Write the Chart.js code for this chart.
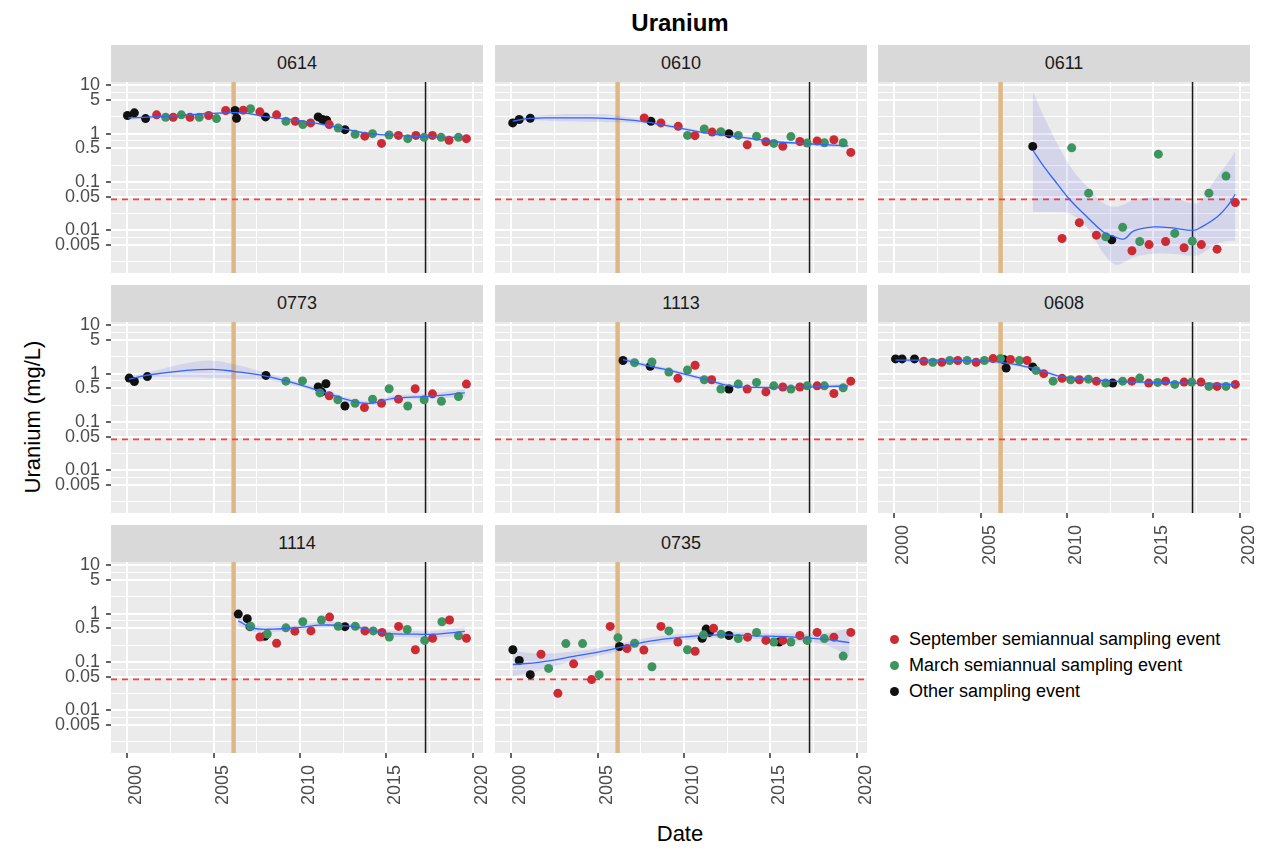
<!DOCTYPE html>
<html>
<head>
<meta charset="utf-8">
<title>Uranium</title>
<script src="https://cdn.jsdelivr.net/npm/chart.js@4.4.0/dist/chart.umd.min.js"></script>
<style>
  body {
    margin: 0;
    width: 1261px;
    height: 849px;
    position: relative;
    overflow: hidden;
    background: #fff;
    font-family: "Liberation Sans", Arial, sans-serif;
  }
  canvas { position: absolute; }
  .strip {
    position: absolute;
    height: 37px;
    line-height: 37px;
    background: #d9d9d9;
    color: #1a1a1a;
    font-size: 18px;
    text-align: center;
  }
  .title {
    position: absolute; left: 480px; top: 11px; width: 400px;
    text-align: center; font-size: 24px; line-height: 24px; font-weight: bold; color: #000;
  }
  .xtitle {
    position: absolute; left: 580px; top: 823px; width: 200px;
    text-align: center; font-size: 22px; line-height: 22px; color: #000;
  }
  .ytitle {
    position: absolute; left: -117px; top: 406px; width: 300px;
    text-align: center; font-size: 22px; line-height: 22px; color: #000;
    transform: rotate(-90deg);
  }
  .key { position: absolute; left: 890px; font-size: 18px; line-height: 18px; color: #000; white-space: nowrap; }
  .key span {
    display: inline-block; width: 9px; height: 9px; border-radius: 50%;
    margin-right: 10px; vertical-align: 1px;
  }
</style>
</head>
<body>
<div class="title">Uranium</div>
<div class="ytitle">Uranium (mg/L)</div>
<div class="xtitle">Date</div>

<script>
// axis ranges and reference lines
const X_MIN = 1999.045, X_MAX = 2020.6;
const Y_MIN = 0.00132, Y_MAX = 11.7;
const yearBreaks = [2000, 2005, 2010, 2015, 2020];
const yBreaks = [0.005, 0.01, 0.05, 0.1, 0.5, 1, 5, 10];
const STANDARD = 0.044;
const TAN_YEAR = 2006.15;
const BLACK_YEAR = 2017.27;

// samples: decimal year, uranium (mg/L), event code
// S = September semiannual, M = March semiannual, O = other
const dates0614 = [2000.0, 2000.4, 2001.05, 2001.69, 2002.21, 2002.65, 2003.12, 2003.62, 2004.16, 2004.70, 2005.16, 2005.69, 2006.23, 2006.32, 2006.71, 2007.13, 2007.67, 2008.0, 2008.64, 2009.18, 2009.72, 2010.16, 2010.61, 2011.05, 2011.30, 2011.54, 2011.69, 2012.21, 2012.60, 2013.19, 2013.75, 2014.20, 2014.72, 2015.16, 2015.70, 2016.24, 2016.71, 2017.19, 2017.67, 2018.17, 2018.63, 2019.18, 2019.64];
const uranium0614 = [2.37, 2.70, 2.05, 2.45, 2.19, 2.19, 2.45, 2.19, 2.19, 2.37, 2.05, 3.01, 3.01, 2.08, 3.06, 3.27, 2.83, 2.22, 2.45, 1.81, 1.81, 1.54, 1.67, 2.22, 1.96, 1.90, 1.54, 1.31, 1.21, 0.97, 0.89, 1.0, 0.63, 0.94, 0.92, 0.79, 0.92, 0.84, 0.92, 0.84, 0.73, 0.84, 0.79];
const events0614 = 'OOOSMSMSMSMSOOSMSOSMSMSOOOSMOMSMSMSMSMSMSMS';

const dates0610 = [2000.07, 2000.45, 2001.09, 2007.69, 2008.08, 2008.66, 2009.66, 2010.2, 2010.63, 2011.17, 2011.63, 2012.13, 2012.6, 2013.14, 2013.66, 2014.2, 2014.74, 2015.2, 2015.72, 2016.19, 2016.71, 2017.13, 2017.71, 2018.13, 2018.68, 2019.22, 2019.66];
const uranium0610 = [1.67, 1.96, 2.08, 2.12, 1.81, 1.67, 1.42, 0.92, 0.91, 1.25, 1.08, 1.10, 1.0, 0.92, 0.59, 0.88, 0.68, 0.63, 0.55, 0.87, 0.69, 0.64, 0.71, 0.65, 0.75, 0.65, 0.41];
const events0610 = 'OOOSOSSMSMSMOMSMSMSMSMSMSMS';

const dates0611 = [2008.01, 2009.71, 2010.27, 2010.71, 2011.25, 2011.70, 2012.24, 2012.59, 2013.22, 2013.76, 2014.21, 2014.75, 2015.29, 2015.71, 2016.24, 2016.78, 2017.26, 2017.78, 2018.22, 2018.69, 2019.21, 2019.75];
const uranium0611 = [0.545, 0.0068, 0.51, 0.0145, 0.059, 0.0080, 0.0074, 0.0064, 0.0116, 0.0038, 0.0059, 0.0051, 0.377, 0.0059, 0.0087, 0.0044, 0.0060, 0.0051, 0.059, 0.0041, 0.133, 0.0377];
const events0611 = 'OSMSMSMOMSMSMSMSMSMSMS';

const dates0773 = [2000.1, 2000.4, 2001.15, 2008.02, 2009.18, 2010.14, 2011.05, 2011.15, 2011.25, 2011.5, 2011.69, 2012.19, 2012.6, 2013.19, 2013.73, 2014.2, 2014.72, 2015.16, 2015.7, 2016.24, 2016.67, 2017.19, 2017.67, 2018.19, 2019.18, 2019.64];
const uranium0773 = [0.81, 0.69, 0.87, 0.92, 0.70, 0.71, 0.53, 0.40, 0.42, 0.62, 0.35, 0.29, 0.215, 0.245, 0.199, 0.297, 0.245, 0.487, 0.297, 0.215, 0.487, 0.29, 0.383, 0.27, 0.337, 0.61];
const events0773 = 'OOOOMMOMOOSMOMSMSMSMSMSMMS';

const dates1113 = [2006.46, 2007.13, 2008.04, 2008.14, 2009.12, 2009.64, 2010.2, 2010.64, 2011.17, 2011.6, 2012.13, 2012.6, 2013.14, 2013.66, 2014.2, 2014.74, 2015.2, 2015.72, 2016.19, 2016.71, 2017.13, 2017.71, 2018.13, 2018.68, 2019.22, 2019.66];
const uranium1113 = [1.87, 1.69, 1.42, 1.75, 1.08, 0.80, 1.19, 1.49, 0.75, 0.75, 0.48, 0.48, 0.61, 0.48, 0.66, 0.42, 0.56, 0.53, 0.48, 0.53, 0.56, 0.56, 0.56, 0.39, 0.51, 0.70];
const events1113 = 'OMOMMSMSMSMOMSMSMSMSMSMSMS';

const dates0608 = [2000.06, 2000.44, 2001.16, 2001.70, 2002.22, 2002.74, 2003.2, 2003.67, 2004.21, 2004.73, 2005.21, 2005.71, 2006.14, 2006.33, 2006.47, 2006.72, 2007.24, 2007.68, 2008.01, 2008.2, 2008.65, 2009.19, 2009.71, 2010.21, 2010.71, 2011.24, 2011.70, 2012.24, 2012.64, 2013.22, 2013.75, 2014.21, 2014.73, 2015.25, 2015.71, 2016.24, 2016.78, 2017.22, 2017.76, 2018.22, 2018.69, 2019.21, 2019.75];
const uranium0608 = [2.02, 2.02, 2.02, 1.81, 1.72, 1.72, 1.87, 1.87, 1.87, 1.72, 1.87, 2.05, 2.05, 1.96, 1.31, 1.96, 1.87, 1.87, 1.38, 1.17, 1.0, 0.70, 0.80, 0.75, 0.75, 0.77, 0.70, 0.64, 0.64, 0.70, 0.70, 0.81, 0.64, 0.66, 0.70, 0.60, 0.67, 0.67, 0.67, 0.545, 0.545, 0.545, 0.60];
const events0608 = 'OOOSMSMSMSMSMOOSMSOMSMSMSMSMOMSMSMSMSMSMSMS';

const dates1114 = [2006.42, 2006.94, 2007.1, 2007.13, 2007.67, 2007.96, 2008.1, 2008.64, 2009.18, 2009.70, 2010.16, 2010.63, 2011.24, 2011.71, 2012.21, 2012.6, 2013.2, 2013.76, 2014.24, 2014.75, 2015.17, 2015.71, 2016.21, 2016.68, 2017.22, 2017.68, 2018.22, 2018.66, 2019.18, 2019.64];
const uranium1114 = [0.98, 0.79, 0.54, 0.55, 0.33, 0.34, 0.38, 0.245, 0.51, 0.435, 0.68, 0.44, 0.74, 0.85, 0.55, 0.54, 0.55, 0.44, 0.44, 0.41, 0.33, 0.545, 0.47, 0.18, 0.28, 0.31, 0.68, 0.74, 0.35, 0.31];
const events1114 = 'OOOMSOMSMSMSMSMOMSMSMSMSMSMSMS';

const dates0735 = [2000.08, 2000.45, 2001.09, 2001.71, 2002.15, 2002.69, 2003.15, 2003.6, 2004.12, 2004.64, 2005.08, 2005.72, 2006.17, 2006.26, 2006.69, 2007.13, 2007.67, 2008.14, 2008.66, 2009.12, 2009.64, 2010.2, 2010.64, 2011.05, 2011.13, 2011.28, 2011.47, 2011.71, 2012.15, 2012.6, 2013.14, 2013.68, 2014.2, 2014.74, 2015.2, 2015.51, 2015.72, 2016.19, 2016.71, 2017.13, 2017.71, 2018.13, 2018.68, 2019.22, 2019.66];
const uranium0735 = [0.18, 0.108, 0.055, 0.145, 0.074, 0.0226, 0.241, 0.092, 0.241, 0.0435, 0.055, 0.545, 0.32, 0.21, 0.19, 0.245, 0.178, 0.08, 0.545, 0.44, 0.26, 0.18, 0.167, 0.31, 0.365, 0.48, 0.41, 0.50, 0.377, 0.354, 0.306, 0.327, 0.41, 0.28, 0.26, 0.26, 0.28, 0.26, 0.354, 0.28, 0.41, 0.306, 0.327, 0.133, 0.41];
const events0735 = 'OOOSMSMSMSMSMOSMSMSMSMSOMOOSMOMSMSMOSMSMSMSMS';

// loess trend with its confidence band
const fitDates0614 = [2000.05, 2002.5, 2004.8, 2006.7, 2008.1, 2010.0, 2011.9, 2013.85, 2015.8, 2017.7, 2019.64];
const fit0614 = [2.12, 2.30, 2.61, 2.69, 2.22, 1.86, 1.42, 1.03, 0.91, 0.85, 0.84];
const fitLow0614 = [1.93, 2.19, 2.47, 2.55, 2.12, 1.77, 1.36, 0.98, 0.87, 0.81, 0.77];
const fitHigh0614 = [2.33, 2.42, 2.76, 2.84, 2.33, 1.95, 1.49, 1.08, 0.95, 0.89, 0.91];

const fitDates0610 = [2000.07, 2001.1, 2002.6, 2004.2, 2005.7, 2007.46, 2009.4, 2011.3, 2013.25, 2015.18, 2017.11, 2019.52];
const fit0610 = [1.81, 2.08, 2.12, 2.12, 2.05, 1.81, 1.38, 1.03, 0.85, 0.69, 0.62, 0.56];
const fitLow0610 = [1.58, 1.88, 1.80, 1.76, 1.72, 1.64, 1.28, 0.96, 0.79, 0.64, 0.58, 0.49];
const fitHigh0610 = [2.07, 2.30, 2.50, 2.55, 2.45, 2.00, 1.49, 1.10, 0.91, 0.74, 0.66, 0.64];

const fitDates0611 = [2008.01, 2008.65, 2009.42, 2010.19, 2011.16, 2012.12, 2012.8, 2013.32, 2013.86, 2015.02, 2015.98, 2017.33, 2017.72, 2018.69, 2019.27, 2019.75];
const fit0611 = [0.46, 0.21, 0.093, 0.042, 0.019, 0.0092, 0.0073, 0.0067, 0.0098, 0.0118, 0.0114, 0.010, 0.0114, 0.019, 0.031, 0.056];
const fitLow0611 = [0.024, 0.024, 0.024, 0.022, 0.0117, 0.0033, 0.00196, 0.00224, 0.0028, 0.0033, 0.0033, 0.0030, 0.0032, 0.0053, 0.0060, 0.0062];
const fitHigh0611 = [7.6, 2.3, 0.64, 0.21, 0.080, 0.036, 0.031, 0.035, 0.042, 0.049, 0.049, 0.036, 0.040, 0.129, 0.24, 0.43];

const fitDates0773 = [2000.1, 2001.3, 2003.43, 2004.97, 2006.13, 2008.06, 2010.0, 2011.54, 2012.89, 2014.05, 2015.4, 2017.33, 2019.55];
const fit0773 = [0.77, 0.95, 1.17, 1.23, 1.12, 0.88, 0.59, 0.40, 0.28, 0.245, 0.31, 0.337, 0.40];
const fitLow0773 = [0.67, 0.83, 0.83, 0.81, 0.79, 0.75, 0.53, 0.36, 0.25, 0.22, 0.28, 0.30, 0.33];
const fitHigh0773 = [0.88, 1.09, 1.65, 1.86, 1.58, 1.03, 0.66, 0.45, 0.31, 0.275, 0.35, 0.38, 0.48];

const fitDates1113 = [2006.46, 2008.04, 2009.39, 2011.32, 2012.67, 2014.22, 2016.15, 2018.08, 2019.52];
const fit1113 = [1.96, 1.42, 1.12, 0.75, 0.56, 0.52, 0.52, 0.54, 0.56];
const fitLow1113 = [1.71, 1.29, 1.02, 0.68, 0.51, 0.485, 0.485, 0.50, 0.50];
const fitHigh1113 = [2.25, 1.56, 1.23, 0.82, 0.61, 0.56, 0.56, 0.59, 0.63];

const fitDates0608 = [2000.06, 2002.47, 2005.37, 2006.72, 2007.68, 2008.65, 2009.61, 2011.16, 2013.09, 2015.02, 2016.95, 2019.75];
const fit0608 = [1.90, 1.90, 1.81, 1.61, 1.38, 1.12, 0.88, 0.77, 0.69, 0.66, 0.64, 0.59];
const fitLow0608 = [1.74, 1.77, 1.69, 1.50, 1.29, 1.04, 0.82, 0.72, 0.645, 0.62, 0.60, 0.54];
const fitHigh0608 = [2.08, 2.03, 1.94, 1.73, 1.48, 1.20, 0.94, 0.82, 0.74, 0.71, 0.69, 0.65];

const fitDates1114 = [2006.42, 2007.29, 2008.45, 2010.0, 2011.15, 2012.69, 2013.85, 2015.0, 2016.75, 2017.71, 2019.55];
const fit1114 = [0.71, 0.50, 0.48, 0.52, 0.58, 0.56, 0.48, 0.39, 0.377, 0.377, 0.43];
const fitLow1114 = [0.56, 0.425, 0.42, 0.46, 0.505, 0.50, 0.43, 0.34, 0.32, 0.32, 0.34];
const fitHigh1114 = [0.89, 0.59, 0.55, 0.58, 0.67, 0.63, 0.54, 0.45, 0.44, 0.44, 0.54];

const fitDates0735 = [2000.08, 2001.67, 2003.6, 2005.53, 2007.07, 2008.81, 2010.74, 2012.29, 2014.22, 2016.15, 2018.08, 2019.58];
const fit0735 = [0.089, 0.10, 0.131, 0.175, 0.233, 0.297, 0.348, 0.365, 0.348, 0.332, 0.297, 0.253];
const fitLow0735 = [0.051, 0.068, 0.105, 0.146, 0.195, 0.25, 0.30, 0.315, 0.30, 0.28, 0.23, 0.133];
const fitHigh0735 = [0.17, 0.15, 0.165, 0.21, 0.28, 0.35, 0.40, 0.42, 0.40, 0.39, 0.39, 0.50];

const eventLabels = {
  S: "September semiannual sampling event",
  M: "March semiannual sampling event",
  O: "Other sampling event",
};
const eventColors = { S: "#cd2a33", M: "#3d9460", O: "#111111" };

const wells = [
  { name: "0614", col: 0, row: 0, xAxis: false, dates: dates0614, uranium: uranium0614, events: events0614, fitDates: fitDates0614, fit: fit0614, low: fitLow0614, high: fitHigh0614 },
  { name: "0610", col: 1, row: 0, xAxis: false, dates: dates0610, uranium: uranium0610, events: events0610, fitDates: fitDates0610, fit: fit0610, low: fitLow0610, high: fitHigh0610 },
  { name: "0611", col: 2, row: 0, xAxis: false, dates: dates0611, uranium: uranium0611, events: events0611, fitDates: fitDates0611, fit: fit0611, low: fitLow0611, high: fitHigh0611 },
  { name: "0773", col: 0, row: 1, xAxis: false, dates: dates0773, uranium: uranium0773, events: events0773, fitDates: fitDates0773, fit: fit0773, low: fitLow0773, high: fitHigh0773 },
  { name: "1113", col: 1, row: 1, xAxis: false, dates: dates1113, uranium: uranium1113, events: events1113, fitDates: fitDates1113, fit: fit1113, low: fitLow1113, high: fitHigh1113 },
  { name: "0608", col: 2, row: 1, xAxis: true, dates: dates0608, uranium: uranium0608, events: events0608, fitDates: fitDates0608, fit: fit0608, low: fitLow0608, high: fitHigh0608 },
  { name: "1114", col: 0, row: 2, xAxis: true, dates: dates1114, uranium: uranium1114, events: events1114, fitDates: fitDates1114, fit: fit1114, low: fitLow1114, high: fitHigh1114 },
  { name: "0735", col: 1, row: 2, xAxis: true, dates: dates0735, uranium: uranium0735, events: events0735, fitDates: fitDates0735, fit: fit0735, low: fitLow0735, high: fitHigh0735 },
];

// facet geometry
const COL_LEFT = [111, 495, 878];
const ROW_TOP = [82, 322, 562];
const PLOT_W = 372, PLOT_H = 191, STRIP_H = 37;
const Y_AXIS_W = 71, X_AXIS_H = 60;
const PAD_TOP = 12, PAD_RIGHT = 16; // room for labels overhanging the panel

// gridlines: breaks plus the midpoints between them
const xGrid = yearBreaks.flatMap((v, i) => (i ? [(yearBreaks[i - 1] + v) / 2, v] : [v]));
const yLevels = [0.001].concat(yBreaks);
const yGrid = yLevels.flatMap((v, i) => (i ? [Math.sqrt(yLevels[i - 1] * v), v] : []));

Chart.defaults.font.family = '"Liberation Sans", Arial, sans-serif';

const panelPlugin = {
  id: "panel",
  beforeDraw(chart) {
    const { ctx, chartArea: a } = chart;
    ctx.save();
    ctx.fillStyle = "#ebebeb";
    ctx.fillRect(a.left, a.top, a.width, a.height);
    ctx.restore();
  },
  beforeDatasetsDraw(chart) {
    const { ctx, chartArea: a, scales } = chart;
    ctx.save();
    ctx.beginPath();
    ctx.rect(a.left, a.top, a.width, a.height);
    ctx.clip();

    const tx = scales.x.getPixelForValue(TAN_YEAR);
    ctx.strokeStyle = "#deb887";
    ctx.lineWidth = 4.5;
    ctx.beginPath();
    ctx.moveTo(tx, a.top);
    ctx.lineTo(tx, a.bottom);
    ctx.stroke();

    const bx = scales.x.getPixelForValue(BLACK_YEAR);
    ctx.strokeStyle = "#1a1a1a";
    ctx.lineWidth = 1.5;
    ctx.beginPath();
    ctx.moveTo(bx, a.top);
    ctx.lineTo(bx, a.bottom);
    ctx.stroke();

    const sy = scales.y.getPixelForValue(STANDARD);
    ctx.strokeStyle = "#ff3b3b";
    ctx.lineWidth = 1.8;
    ctx.setLineDash([6, 5]);
    ctx.beginPath();
    ctx.moveTo(a.left, sy);
    ctx.lineTo(a.right, sy);
    ctx.stroke();
    ctx.restore();
  },
};

function toPoints(xs, ys) {
  return xs.map((x, i) => ({ x: x, y: ys[i] }));
}

function eventPoints(well, code) {
  return well.dates
    .map((d, i) => ({ x: d, y: well.uranium[i], e: well.events[i] }))
    .filter((p) => p.e === code);
}

function drawWell(well) {
  const left = COL_LEFT[well.col];
  const top = ROW_TOP[well.row];
  const yw = well.col === 0 ? Y_AXIS_W : 0;
  const xh = well.xAxis ? X_AXIS_H : 0;

  const strip = document.createElement("div");
  strip.className = "strip";
  strip.style.left = left + "px";
  strip.style.top = top - STRIP_H + "px";
  strip.style.width = PLOT_W + "px";
  strip.textContent = well.name;
  document.body.appendChild(strip);

  const canvas = document.createElement("canvas");
  canvas.width = yw + PLOT_W + PAD_RIGHT;
  canvas.height = PAD_TOP + PLOT_H + xh;
  canvas.style.left = left - yw + "px";
  canvas.style.top = top - PAD_TOP + "px";
  document.body.appendChild(canvas);

  const datasets = [
    {
      label: "fit",
      data: toPoints(well.fitDates, well.fit),
      showLine: true,
      borderColor: "#3366ff",
      borderWidth: 1.3,
      pointRadius: 0,
      tension: 0.4,
      fill: false,
      order: 0,
    },
  ];
  ["S", "M", "O"].forEach((code, k) => {
    datasets.push({
      label: eventLabels[code],
      data: eventPoints(well, code),
      backgroundColor: eventColors[code],
      borderWidth: 0,
      pointRadius: 4.5,
      order: 1 + k,
    });
  });
  datasets.push(
    {
      label: "upper",
      data: toPoints(well.fitDates, well.high),
      showLine: true,
      borderWidth: 0,
      borderColor: "rgba(0,0,0,0)",
      pointRadius: 0,
      tension: 0.4,
      fill: "+1",
      backgroundColor: "rgba(70, 70, 225, 0.13)",
      order: 5,
    },
    {
      label: "lower",
      data: toPoints(well.fitDates, well.low),
      showLine: true,
      borderWidth: 0,
      borderColor: "rgba(0,0,0,0)",
      pointRadius: 0,
      tension: 0.4,
      fill: false,
      order: 6,
    }
  );

  new Chart(canvas.getContext("2d"), {
    type: "scatter",
    data: { datasets: datasets },
    plugins: [panelPlugin],
    options: {
      responsive: false,
      animation: false,
      events: [],
      layout: { padding: { top: PAD_TOP, right: PAD_RIGHT, left: 0, bottom: 0 }, autoPadding: false },
      plugins: { legend: { display: false }, tooltip: { enabled: false } },
      scales: {
        x: {
          type: "linear",
          position: "bottom",
          min: X_MIN,
          max: X_MAX,
          afterBuildTicks: (s) => {
            s.ticks = xGrid.map((v) => ({ value: v }));
          },
          afterFit: (s) => {
            s.height = xh;
            s.paddingLeft = 0;
            s.paddingRight = 0;
          },
          border: { display: false },
          grid: {
            color: "#ffffff",
            lineWidth: (c) => (c.tick && yearBreaks.includes(c.tick.value) ? 2 : 1),
            drawTicks: well.xAxis,
            tickLength: 5,
            tickWidth: 1.5,
            tickColor: (c) => (c.tick && yearBreaks.includes(c.tick.value) ? "#333333" : "rgba(0,0,0,0)"),
          },
          ticks: {
            display: well.xAxis,
            autoSkip: false,
            minRotation: 90,
            maxRotation: 90,
            labelOffset: 9,
            padding: 7,
            color: "#4d4d4d",
            font: { size: 18 },
            callback: (v) => (yearBreaks.includes(v) ? String(v) : ""),
          },
        },
        y: {
          type: "logarithmic",
          position: "left",
          min: Y_MIN,
          max: Y_MAX,
          afterBuildTicks: (s) => {
            s.ticks = yGrid.map((v) => ({ value: v }));
          },
          afterFit: (s) => {
            s.width = yw;
            s.paddingTop = 0;
            s.paddingBottom = 0;
          },
          border: { display: false },
          grid: {
            color: "#ffffff",
            lineWidth: (c) => (c.tick && yBreaks.includes(c.tick.value) ? 2 : 1),
            drawTicks: well.col === 0,
            tickLength: 5,
            tickWidth: 1.5,
            tickColor: (c) => (c.tick && yBreaks.includes(c.tick.value) ? "#333333" : "rgba(0,0,0,0)"),
          },
          ticks: {
            display: well.col === 0,
            autoSkip: false,
            padding: 6,
            color: "#4d4d4d",
            font: { size: 18 },
            callback: (v) => (yBreaks.includes(v) ? String(v) : ""),
          },
        },
      },
    },
  });
}

function drawLegend() {
  ["S", "M", "O"].forEach((code, i) => {
    const row = document.createElement("div");
    row.className = "key";
    row.style.top = 630 + i * 26 + "px";
    const dot = document.createElement("span");
    dot.style.background = eventColors[code];
    row.appendChild(dot);
    row.appendChild(document.createTextNode(eventLabels[code]));
    document.body.appendChild(row);
  });
}

wells.forEach(drawWell);
drawLegend();
</script>
</body>
</html>
